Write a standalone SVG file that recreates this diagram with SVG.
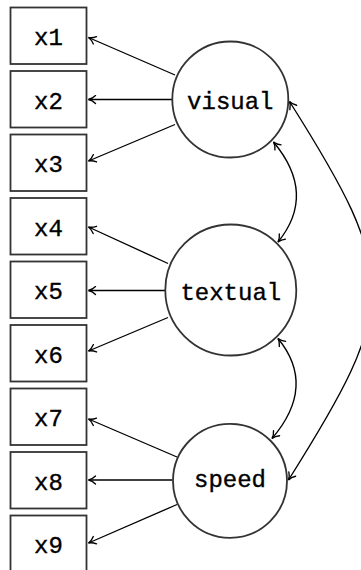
<svg xmlns="http://www.w3.org/2000/svg" width="361" height="570" viewBox="0 0 361 570">
<style>
.box{fill:#fff;stroke:#333;stroke-width:1.8}
.lat{fill:#fff;stroke:#333;stroke-width:1.8}
.lbl{font-family:"Liberation Mono","DejaVu Sans Mono",monospace;font-size:24px;fill:#000;stroke:#000;stroke-width:0.35;text-anchor:middle}
.edge{fill:none;stroke:#000;stroke-width:1.35;marker-end:url(#ah)}
.cov{fill:none;stroke:#000;stroke-width:1.35;marker-start:url(#ah);marker-end:url(#ah)}
</style>
<defs>
<marker id="ah" viewBox="-9 -5 10 10" refX="0" refY="0" markerWidth="10" markerHeight="10" markerUnits="userSpaceOnUse" orient="auto-start-reverse">
<path d="M-7,-4 C-4.5,-1.5 -1.8,-0.4 0,0 C-1.8,0.4 -4.5,1.5 -7,4" fill="none" stroke="#000" stroke-width="1.35" stroke-linecap="round"/>
</marker>
</defs>
<g id="connectors">
<path class="edge" d="M175,75 L88.5,37.5"/>
<path class="edge" d="M172,99.5 L88.5,99.5"/>
<path class="edge" d="M175,124.5 L88.5,161"/>
<path class="edge" d="M168,263.5 L88.5,227"/>
<path class="edge" d="M165,290.5 L88.5,290.5"/>
<path class="edge" d="M168,317.5 L88.5,351"/>
<path class="edge" d="M177,457 L88.5,419"/>
<path class="edge" d="M172.5,480 L88.5,480"/>
<path class="edge" d="M177,504.5 L88.5,543"/>
<path class="cov" d="M273.5,142 Q317,194 278,242"/>
<path class="cov" d="M278,338.5 Q317,386 272,438.5"/>
<path class="cov" d="M289.5,101.5 C400,276 399,305 288.5,480"/>
</g>
<g id="x1"><rect class="box" x="10.5" y="7.5" width="76" height="56.5"/><text class="lbl" x="48.5" y="45">x1</text></g>
<g id="x2"><rect class="box" x="10.5" y="71" width="76" height="56.5"/><text class="lbl" x="48.5" y="108.5">x2</text></g>
<g id="x3"><rect class="box" x="10.5" y="134.5" width="76" height="56.5"/><text class="lbl" x="48.5" y="172">x3</text></g>
<g id="x4"><rect class="box" x="10.5" y="198" width="76" height="56.5"/><text class="lbl" x="48.5" y="235.5">x4</text></g>
<g id="x5"><rect class="box" x="10.5" y="261.5" width="76" height="56.5"/><text class="lbl" x="48.5" y="299">x5</text></g>
<g id="x6"><rect class="box" x="10.5" y="325" width="76" height="56.5"/><text class="lbl" x="48.5" y="362.5">x6</text></g>
<g id="x7"><rect class="box" x="10.5" y="388.5" width="76" height="56.5"/><text class="lbl" x="48.5" y="426">x7</text></g>
<g id="x8"><rect class="box" x="10.5" y="452" width="76" height="56.5"/><text class="lbl" x="48.5" y="489.5">x8</text></g>
<g id="x9"><rect class="box" x="10.5" y="515.5" width="76" height="56.5"/><text class="lbl" x="48.5" y="553">x9</text></g>
<g id="visual"><circle class="lat" cx="230.3" cy="99.5" r="58"/><text class="lbl" x="230.3" y="109">visual</text></g>
<g id="textual"><circle class="lat" cx="230.8" cy="290" r="65.5"/><text class="lbl" x="230.8" y="299.5">textual</text></g>
<g id="speed"><circle class="lat" cx="230" cy="480.8" r="57"/><text class="lbl" x="230" y="486.5">speed</text></g>
</svg>
